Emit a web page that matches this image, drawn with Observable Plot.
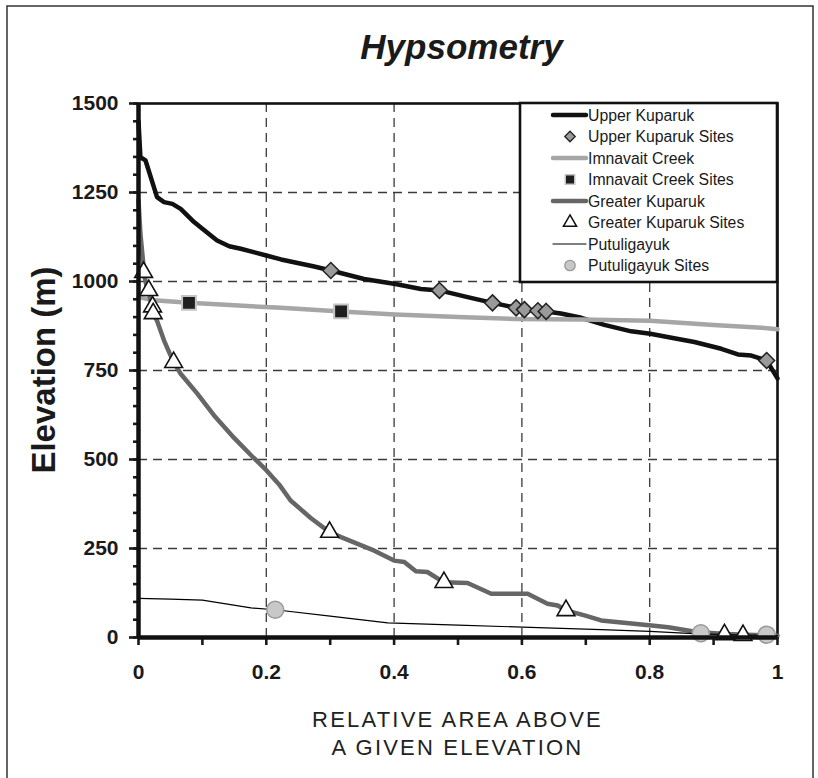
<!DOCTYPE html>
<html>
<head>
<meta charset="utf-8">
<script src="https://cdn.jsdelivr.net/npm/d3@7"></script>
<script src="https://cdn.jsdelivr.net/npm/@observablehq/plot@0.6"></script>
<style>
  html, body { margin: 0; padding: 0; background: #fff; }
  #wrap { position: relative; width: 818px; height: 778px; overflow: hidden; font-family: "Liberation Sans", Arial, sans-serif; }
  #wrap svg { position: absolute; left: 0; top: 0; }
</style>
</head>
<body>
<div id="wrap"></div>
<script>
// ---------- data ----------
const upperKuparukX = [0, 0.003, 0.011, 0.029, 0.040, 0.053, 0.066, 0.087, 0.10, 0.123, 0.142, 0.16, 0.20, 0.223, 0.275, 0.301, 0.353, 0.402, 0.442, 0.471, 0.515, 0.554, 0.591, 0.604, 0.625, 0.638, 0.661, 0.693, 0.729, 0.771, 0.801, 0.834, 0.870, 0.912, 0.938, 0.959, 0.983, 1.0];
const upperKuparukY = [1450, 1349, 1340, 1237, 1223, 1218, 1204, 1167, 1148, 1115, 1099, 1092, 1073, 1062, 1042, 1031, 1007, 993, 979, 975, 956, 940, 926, 921, 918, 916, 910, 898, 878, 860, 853, 842, 830, 811, 795, 792, 778, 728];

const imnavaitX = [0, 0.024, 0.079, 0.15, 0.223, 0.317, 0.402, 0.5, 0.588, 0.693, 0.801, 0.9, 0.975, 1.0];
const imnavaitY = [956, 947, 940, 933, 926, 916, 907, 900, 895, 893, 890, 878, 870, 866];

const greaterKuparukX = [0, 0.003, 0.007, 0.008, 0.014, 0.016, 0.021, 0.022, 0.029, 0.040, 0.055, 0.066, 0.092, 0.12, 0.15, 0.18, 0.2, 0.22, 0.238, 0.27, 0.299, 0.317, 0.369, 0.400, 0.416, 0.434, 0.452, 0.478, 0.515, 0.552, 0.609, 0.640, 0.656, 0.669, 0.698, 0.724, 0.803, 0.829, 0.876, 0.92, 0.95, 1.0];
const greaterKuparukY = [1228, 1134, 1059, 1026, 975, 970, 928, 910, 890, 834, 773, 741, 685, 620, 560, 505, 470, 430, 385, 335, 296, 282, 244, 216, 212, 186, 184, 155, 153, 123, 123, 95, 90, 76, 62, 48, 34, 29, 15, 10, 8, 5];

const putuligayukX = [0, 0.05, 0.1, 0.176, 0.214, 0.3, 0.39, 0.5, 0.601, 0.724, 0.8, 0.876, 0.95, 1.0];
const putuligayukY = [110, 108, 105, 83, 78, 60, 41, 35, 29, 22, 17, 10, 7, 5];

const upperSitesX = [0.301, 0.471, 0.554, 0.591, 0.604, 0.625, 0.638, 0.983];
const upperSitesY = [1031, 975, 940, 926, 921, 918, 916, 778];
const imnavaitSitesX = [0.079, 0.317];
const imnavaitSitesY = [940, 916];
const greaterSitesX = [0.008, 0.016, 0.022, 0.023, 0.055, 0.299, 0.478, 0.669, 0.917, 0.946];
const greaterSitesY = [1026, 975, 929, 910, 773, 296, 155, 76, 8, 6];
const putuSitesX = [0.214, 0.88, 0.983];
const putuSitesY = [78, 12, 8];

const xTickValues = [0, 0.2, 0.4, 0.6, 0.8, 1];
const xMinorTicks = [0, 0.1, 0.2, 0.3, 0.4, 0.5, 0.6, 0.7, 0.8, 0.9, 1];
const yTickValues = [0, 250, 500, 750, 1000, 1250, 1500];
const yMinorTicks = [0, 50, 100, 150, 200, 250, 300, 350, 400, 450, 500, 550, 600, 650, 700, 750, 800, 850, 900, 950, 1000, 1050, 1100, 1150, 1200, 1250, 1300, 1350, 1400, 1450, 1500];
const xGrid = [0.2, 0.4, 0.6, 0.8];
const yGrid = [250, 500, 750, 1000, 1250];

const titleText = "Hypsometry";
const yLabelText = "Elevation (m)";
const xLabelLines = ["RELATIVE AREA ABOVE", "A GIVEN ELEVATION"];
const legendLabels = ["Upper Kuparuk", "Upper Kuparuk Sites", "Imnavait Creek", "Imnavait Creek Sites", "Greater Kuparuk", "Greater Kuparuk Sites", "Putuligayuk", "Putuligayuk Sites"];

// ---------- build tables ----------
const zip = (xs, ys) => xs.map((x, i) => ({x, y: ys[i]}));
const upper = zip(upperKuparukX, upperKuparukY);
const imna = zip(imnavaitX, imnavaitY);
const greater = zip(greaterKuparukX, greaterKuparukY);
const putu = zip(putuligayukX, putuligayukY);
const upperSites = zip(upperSitesX, upperSitesY);
const imnaSites = zip(imnavaitSitesX, imnavaitSitesY);
const greaterSites = zip(greaterSitesX, greaterSitesY);
const putuSites = zip(putuSitesX, putuSitesY);

const W = 818, H = 778;
const mL = 138, mR = 41, mT = 103, mB = 141;

const chart = Plot.plot({
  width: W, height: H,
  marginLeft: mL, marginRight: mR, marginTop: mT, marginBottom: mB,
  style: {fontFamily: '"Liberation Sans", Arial, sans-serif', color: "#1a1a1a", background: "transparent"},
  x: {domain: [0, 1]},
  y: {domain: [0, 1500]},
  marks: [
    Plot.ruleX(xGrid, {stroke: "#3a3a3a", strokeWidth: 1.3, strokeDasharray: "9,6"}),
    Plot.ruleY(yGrid, {stroke: "#3a3a3a", strokeWidth: 1.3, strokeDasharray: "9,6"}),
    Plot.frame({stroke: "#111", strokeWidth: 2.6}),
    Plot.line(upper, {x: "x", y: "y", stroke: "#111", strokeWidth: 4.5, curve: "linear"}),
    Plot.line(imna, {x: "x", y: "y", stroke: "#a6a6a6", strokeWidth: 4.5}),
    Plot.line(greater, {x: "x", y: "y", stroke: "#666", strokeWidth: 4.5}),
    Plot.line(putu, {x: "x", y: "y", stroke: "#000", strokeWidth: 1.2}),
    Plot.dot(upperSites, {x: "x", y: "y", symbol: "diamond2", r: 7.2, fill: "#9a9a9a", stroke: "#222", strokeWidth: 1.5}),
    Plot.dot(imnaSites, {x: "x", y: "y", symbol: "square", r: 7.8, fill: "#1e1e1e", stroke: "#c4c4c4", strokeWidth: 2}),
    Plot.dot(greaterSites, {x: "x", y: "y", symbol: "triangle", r: 6.6, fill: "#fff", stroke: "#111", strokeWidth: 1.6}),
    Plot.dot(putuSites, {x: "x", y: "y", symbol: "circle", r: 8.5, fill: "#c8c8c8", stroke: "#999", strokeWidth: 1.5}),
    Plot.axisX(xMinorTicks, {tickSize: 8, strokeWidth: 2.6, tickFormat: () => "", label: null}),
    Plot.axisX(xTickValues, {tickSize: 0, tickPadding: 27, fontSize: 21, fontWeight: "bold", tickFormat: d => String(d), label: null}),
    Plot.axisY(yMinorTicks, {tickSize: 5, strokeWidth: 2.6, tickFormat: () => "", label: null}),
    Plot.axisY(yTickValues, {tickSize: 9, strokeWidth: 2.6, tickPadding: 11, fontSize: 21, fontWeight: "bold", tickFormat: d => String(d), label: null}),
    Plot.ruleX([0], {stroke: "#111", strokeWidth: 4.5}),
    Plot.ruleY([0], {stroke: "#111", strokeWidth: 4.5})
  ]
});

const wrap = document.getElementById("wrap");
wrap.appendChild(chart);

// ---------- overlay: title, axis titles, legend, border ----------
const svg = d3.select(wrap).append("svg")
  .attr("width", W).attr("height", H)
  .style("font-family", '"Liberation Sans", Arial, sans-serif');

svg.append("rect").attr("x", 7).attr("y", 6).attr("width", 806).attr("height", 820)
  .attr("fill", "none").attr("stroke", "#333").attr("stroke-width", 1.5);

const cx = mL + (W - mL - mR) / 2;
svg.append("text").attr("x", cx + 4).attr("y", 59).attr("text-anchor", "middle")
  .attr("font-size", 35).attr("font-weight", "bold").attr("font-style", "italic").attr("fill", "#1a1a1a")
  .text(titleText);

svg.append("text").attr("transform", `translate(55,${mT + (H - mT - mB) / 2}) rotate(-90)`)
  .attr("text-anchor", "middle").attr("font-size", 33).attr("font-weight", "bold").attr("fill", "#1a1a1a")
  .text(yLabelText);

xLabelLines.forEach((t, i) => {
  svg.append("text").attr("x", cx).attr("y", 727 + i * 28).attr("text-anchor", "middle")
    .attr("font-size", 22).attr("letter-spacing", 2.2).attr("fill", "#222").text(t);
});

// legend
const lg = svg.append("g");
const lx = 520, ly = 103, lw = 257, lh = 179;
lg.append("rect").attr("x", lx).attr("y", ly).attr("width", lw).attr("height", lh)
  .attr("fill", "#fff").attr("stroke", "#111").attr("stroke-width", 2.6);
const legendStyles = [
  {type: "line", stroke: "#111", w: 4.5},
  {type: "sym", sym: d3.symbolDiamond2, size: 70, fill: "#9a9a9a", stroke: "#222", sw: 1.3},
  {type: "line", stroke: "#a6a6a6", w: 4.5},
  {type: "sym", sym: d3.symbolSquare, size: 90, fill: "#1e1e1e", stroke: "#c4c4c4", sw: 1.5},
  {type: "line", stroke: "#666", w: 4.5},
  {type: "sym", sym: d3.symbolTriangle, size: 75, fill: "#fff", stroke: "#111", sw: 1.5},
  {type: "line", stroke: "#000", w: 1.2},
  {type: "sym", sym: d3.symbolCircle, size: 85, fill: "#c8c8c8", stroke: "#999", sw: 1.3}
];
legendLabels.forEach((label, i) => {
  const y = 115 + i * 21.5;
  const s = legendStyles[i];
  if (s.type === "line") {
    lg.append("line").attr("x1", 553).attr("x2", 586).attr("y1", y).attr("y2", y)
      .attr("stroke", s.stroke).attr("stroke-width", s.w).attr("stroke-linecap", "round");
  } else {
    lg.append("path").attr("d", d3.symbol(s.sym, s.size)()).attr("transform", `translate(570,${y})`)
      .attr("fill", s.fill).attr("stroke", s.stroke).attr("stroke-width", s.sw);
  }
  lg.append("text").attr("x", 588).attr("y", y).attr("dy", "0.35em").attr("font-size", 15.8)
    .attr("fill", "#1a1a1a").text(label);
});
</script>
</body>
</html>
